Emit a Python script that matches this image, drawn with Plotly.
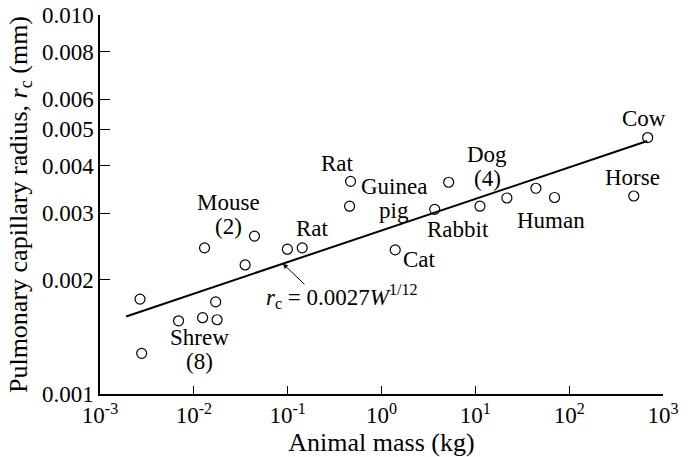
import math
import numpy as np
import plotly.graph_objects as go

# ---- data ----
mass_kg = [0.00267, 0.00278, 0.00687, 0.0124, 0.0177, 0.0171,   # shrew
           0.0130, 0.0443, 0.0352,                              # mouse
           0.0993, 0.143,                                       # rat
           0.468, 0.457,                                        # rat
           1.40,                                                # cat
           3.69,                                                # rabbit
           5.20, 11.2, 21.7, 44.2,                              # dog
           69.8,                                                # human
           488.0,                                               # horse
           687.0]                                               # cow
radius_mm = [0.00178, 0.00128, 0.00156, 0.00159, 0.00157, 0.00175,
             0.00243, 0.00261, 0.00219,
             0.00241, 0.00243,
             0.00364, 0.00313,
             0.00240,
             0.00307,
             0.00362, 0.00313, 0.00329, 0.00349,
             0.00330,
             0.00333,
             0.00475]

fit_coeff = 0.0027
fit_exp = 1.0 / 12.0
fit_range = [0.0019, 680.0]

label_text = ["Shrew\n(8)", "Mouse\n(2)", "Rat", "Rat", "Guinea\npig", "Cat",
              "Rabbit", "Dog\n(4)", "Human", "Horse", "Cow"]
label_x = [0.0116, 0.0235, 0.185, 0.340, 1.37, 2.54, 6.59, 13.4, 64.4, 468, 628]
label_y = [0.00131, 0.00298, 0.00273, 0.00405, 0.00328, 0.00227, 0.00272,
           0.00398, 0.00287, 0.00372, 0.00533]

x_tickvals = [1e-3, 1e-2, 1e-1, 1e0, 1e1, 1e2, 1e3]
x_ticktext = ["10<sup>-3</sup>", "10<sup>-2</sup>", "10<sup>-1</sup>", "10<sup>0</sup>",
              "10<sup>1</sup>", "10<sup>2</sup>", "10<sup>3</sup>"]
y_tickvals = [0.001, 0.002, 0.003, 0.004, 0.005, 0.006, 0.008, 0.010]
y_ticktext = ["0.001", "0.002", "0.003", "0.004", "0.005", "0.006", "0.008", "0.010"]

FONT = "Liberation Serif, Times New Roman, serif"
FS = 23
TITLE_FS = 26
LINE_GAP = 24

fit_x = np.logspace(math.log10(fit_range[0]), math.log10(fit_range[1]), 50)
fit_y = fit_coeff * fit_x ** fit_exp

fig = go.Figure()
fig.add_trace(go.Scatter(x=fit_x, y=fit_y, mode="lines",
                         line=dict(color="black", width=2), showlegend=False))
fig.add_trace(go.Scatter(x=mass_kg, y=radius_mm, mode="markers",
                         marker=dict(symbol="circle-open", size=10, color="black",
                                     line=dict(width=1.2, color="black")),
                         showlegend=False))

for t, lx, ly in zip(label_text, label_x, label_y):
    lines = t.split("\n")
    n = len(lines)
    for i, ln in enumerate(lines):
        shift = ((n - 1) / 2.0 - i) * LINE_GAP
        fig.add_annotation(x=math.log10(lx), y=math.log10(ly), text=ln, showarrow=False,
                           yshift=shift, font=dict(family=FONT, size=FS, color="black"))

# equation with arrow
arrow_w = 0.089
fig.add_annotation(x=math.log10(arrow_w), y=math.log10(fit_coeff * arrow_w ** fit_exp),
                   text="", showarrow=True, ax=23, ay=22, arrowhead=2, arrowsize=1,
                   arrowwidth=1, arrowcolor="black")
fig.add_annotation(x=math.log10(0.375), y=math.log10(0.00181),
                   text="<i>r</i><sub>c</sub> = 0.0027<i>W</i><sup>1/12</sup>",
                   showarrow=False, font=dict(family=FONT, size=FS, color="black"))

fig.update_xaxes(type="log", range=[-3, 3], tickvals=x_tickvals, ticktext=x_ticktext,
                 ticks="inside", ticklen=8, tickcolor="black", showline=True,
                 linecolor="black", linewidth=1.5, showgrid=False, zeroline=False,
                 automargin=False, ticklabeloverflow="allow",
                 title=dict(text="Animal mass (kg)", font=dict(family=FONT, size=TITLE_FS),
                            standoff=4),
                 tickfont=dict(family=FONT, size=FS, color="black"))
fig.update_yaxes(type="log", range=[-3, -2], tickvals=y_tickvals, ticktext=y_ticktext,
                 ticks="inside", ticklen=10, tickcolor="black", showline=True,
                 linecolor="black", linewidth=1.5, showgrid=False, zeroline=False,
                 automargin=False, ticklabeloverflow="allow",
                 title=dict(text="Pulmonary capillary radius, <i>r</i><sub>c</sub> (mm)",
                            font=dict(family=FONT, size=TITLE_FS), standoff=7),
                 tickfont=dict(family=FONT, size=FS, color="black"))

fig.update_layout(width=692, height=457, plot_bgcolor="white", paper_bgcolor="white",
                  margin=dict(l=100, r=29, t=15, b=63),
                  font=dict(family=FONT, size=FS, color="black"))

fig.write_html("out.html", config={"displayModeBar": False},
               post_script="document.body.style.margin='0';")
